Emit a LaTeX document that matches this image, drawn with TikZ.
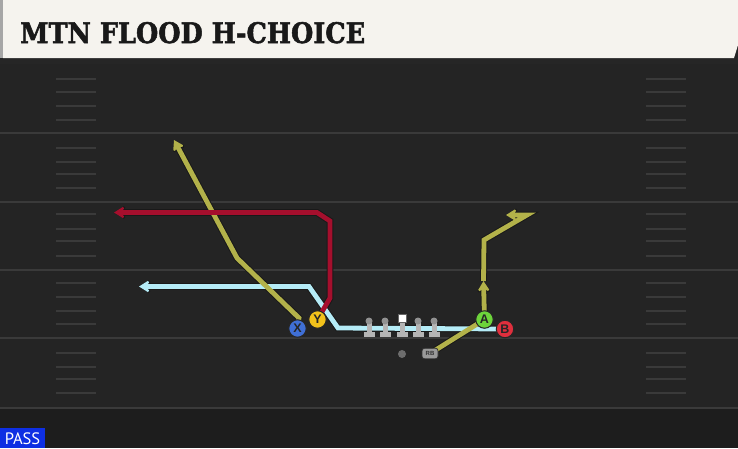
\documentclass[tikz,border=0pt]{standalone}
\usepackage{fontspec}
\usetikzlibrary{arrows.meta}
\newfontfamily\titlefont{DejaVu Serif}[BoldFeatures={FakeBold=2}]
\newfontfamily\passfont{PT Sans}
\newfontfamily\playerfont{Liberation Sans}
\definecolor{bgmain}{HTML}{242424}
\definecolor{bgdark}{HTML}{1D1D1D}
\definecolor{yardc}{HTML}{3A3A3A}
\definecolor{cream}{HTML}{F5F3EE}
\definecolor{olive}{HTML}{B3B24A}
\definecolor{routered}{HTML}{A50F2D}
\definecolor{lightblue}{HTML}{B5ECF7}
\definecolor{xblue}{HTML}{3F6FD6}
\definecolor{yyellow}{HTML}{F3C21B}
\definecolor{agreen}{HTML}{6DD43B}
\definecolor{bred}{HTML}{DF2F3D}
\definecolor{passblue}{HTML}{0E2FE3}
\definecolor{linegray}{HTML}{B5B5B5}
\pgfdeclarelayer{back}
\pgfdeclarelayer{routes}
\pgfsetlayers{back,routes,main}
\tikzset{
  yard/.style={draw=yardc, line width=2pt},
  hash/.style={draw=yardc, line width=1.6pt},
  route/.style={line width=4.8pt, line join=miter, miter limit=4},
  outline/.style={draw=black!90, line width=6.8pt, line join=miter, miter limit=4},
  routetip/.style={arrows={-Stealth[length=12pt, width=15pt, inset=4.5pt]}},
  outlinetip/.style={arrows={-Stealth[length=13.5pt, width=17pt, inset=5pt]}},
  player/.style={circle, draw=black!85, line width=1pt, minimum size=17.5pt,
     inner sep=0pt, text=black!85,
     font=\playerfont\bfseries\fontsize{12.5}{12.5}\selectfont},
  linehead/.style={circle, fill=linegray!80!black, inner sep=0pt, minimum size=7pt},
  centerbox/.style={fill=white, draw=black!60, line width=0.4pt, inner sep=0pt, minimum size=8.5pt},
  rbbox/.style={draw=black!80, fill=linegray!85!black, rounded corners=2.5pt, line width=0.8pt,
     minimum width=16pt, minimum height=10.5pt, inner sep=0pt, text=black!80,
     font=\playerfont\bfseries\fontsize{6}{6}\selectfont},
  qbdot/.style={circle, fill=linegray!60!black, inner sep=0pt, minimum size=8pt},
  lineman/.pic={
    \fill[linegray] (-2.5,0) rectangle (2.5,10);
    \fill[linegray] (-5.5,9.5) rectangle (5.5,14.5);
  }
}
\begin{document}
\begin{tikzpicture}[x=1pt,y=-1pt]
\useasboundingbox (0,0) rectangle (738,448);
\begin{pgfonlayer}{back}
\fill[bgmain] (0,0) rectangle (738,448);
\fill[bgdark] (0,408) rectangle (738,448);
\foreach \yy in {133,202,270,338,408} \draw[yard] (0,\yy) -- (738,\yy);
\foreach \yy in {79,92,106,120,148,162,174,188,214,229,241,256,283,297,311,324,353,367,379,393} {
  \draw[hash] (56,\yy) -- (96,\yy);
  \draw[hash] (646,\yy) -- (686,\yy);
}
\fill[black!85] (0,58) rectangle (738,64);
\fill[cream] (3,0) -- (738,0) -- (738,45) -- (734,58) -- (3,58) -- cycle;
\fill[gray!70] (0,0) rectangle (3,58);
\end{pgfonlayer}

\node[anchor=base west, inner sep=0pt, text=black!90] (title) at (20,43)
  {\resizebox{345pt}{21pt}{\titlefont\bfseries MTN FLOOD H-CHOICE}};

\fill[passblue] (0,428) rectangle (45,448);
\node[text=white, inner sep=0pt, font=\passfont\fontsize{16.5}{16.5}\selectfont] (pass) at (22.5,438.5) {PASS};

% offensive line
\pic at (369,322) {lineman};
\pic at (385,322) {lineman};
\pic at (402,322) {lineman};
\pic at (418,322) {lineman};
\pic at (434,322) {lineman};
\node[linehead] (LT) at (369,321) {};
\node[linehead] (LG) at (385,321) {};
\node[centerbox] (C) at (402,318) {};
\node[linehead] (RG) at (418,321) {};
\node[linehead] (RT) at (434,321) {};
\node[qbdot] (QB) at (402,354) {};
\node[rbbox] (RB) at (430,353.5) {RB};

% skill players
\node[player, fill=xblue] (X) at (297.5,328.5) {X};
\node[player, fill=yyellow] (Y) at (317.5,319.5) {Y};
\node[player, fill=agreen] (A) at (484.5,319.5) {A};
\node[player, fill=bred] (B) at (505,329) {B};

% route waypoints
\coordinate (x0) at (299,318);
\coordinate (x1) at (237,258);
\coordinate (xend) at (174,140);
\coordinate (y1) at (330,298);
\coordinate (y2) at (330,221);
\coordinate (y3) at (317,212.5);
\coordinate (yend) at (114,212.5);
\coordinate (b1) at (338,328);
\coordinate (b2) at (309,286.5);
\coordinate (bend) at (139,286.5);
\coordinate (a1) at (483.5,281);
\coordinate (a2) at (484,240);
\coordinate (a3) at (527,215);
\coordinate (aend) at (506,215);

\begin{pgfonlayer}{routes}
% outlines
\draw[outline, outlinetip] (B.center) -- (b1) -- (b2) -- (bend);
\draw[outline, outlinetip] (X.center) -- (x0) -- (x1) -- (xend);
\draw[outline, outlinetip] (Y.center) -- (y1) -- (y2) -- (y3) -- (yend);
\draw[outline, outlinetip] (A.center) -- (a1);
\draw[outline, outlinetip] (a1) -- (a2) -- (a3) -- (aend);
\draw[outline] (RB.center) -- (A.center);
% colours
\draw[route, lightblue, routetip] (B.center) -- (b1) -- (b2) -- (bend);
\draw[route, olive, routetip] (X.center) -- (x0) -- (x1) -- (xend);
\draw[route, routered, routetip] (Y.center) -- (y1) -- (y2) -- (y3) -- (yend);
\draw[route, olive, routetip] (A.center) -- (a1);
\draw[route, olive, routetip] (a1) -- (a2) -- (a3) -- (aend);
\draw[route, olive] (RB.center) -- (A.center);
\end{pgfonlayer}
\end{tikzpicture}
\end{document}
